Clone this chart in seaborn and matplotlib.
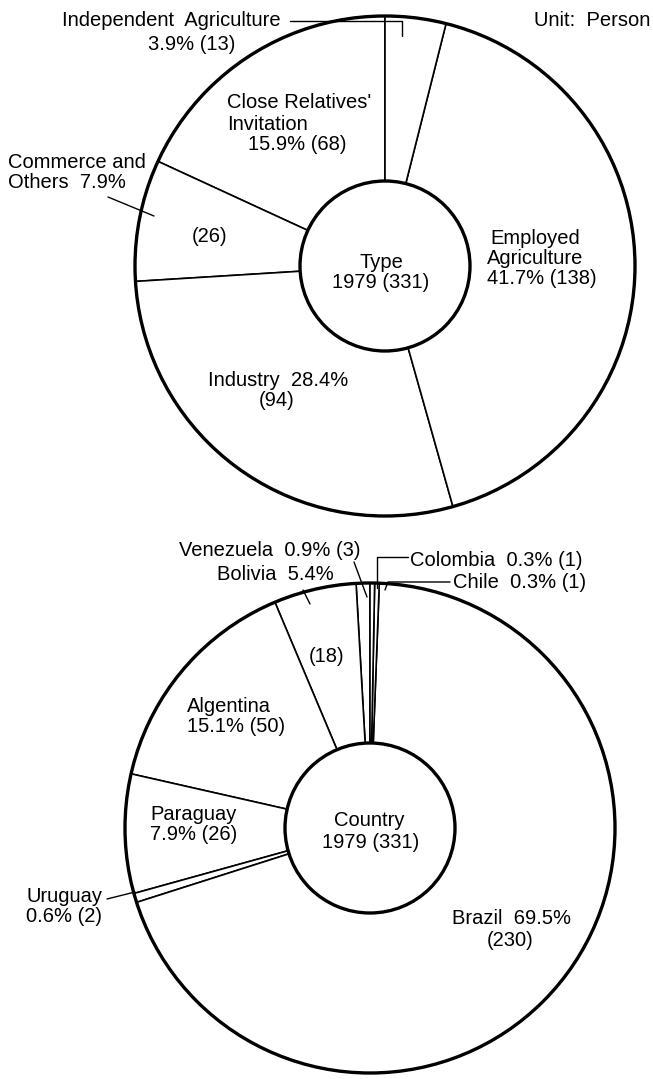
import matplotlib
matplotlib.use("Agg")
import matplotlib.pyplot as plt
from matplotlib.patches import Circle
import seaborn as sns

# DATA (wedge sizes as drawn, total 331 persons each)
type_names = ["Close Relatives' Invitation", "Commerce and Others", "Industry",
              "Employed Agriculture", "Independent Agriculture"]
type_counts = [60, 26, 94, 138, 13]

country_names = ["Venezuela", "Bolivia", "Algentina", "Paraguay", "Uruguay",
                 "Brazil", "Chile", "Colombia"]
country_counts = [3, 18, 50, 26, 2, 230, 1, 1]

# label texts as printed
type_labels = [
    ("Unit:  Person", 650, 20, "right"),
    ("Independent  Agriculture", 62, 21, "left"),
    ("3.9% (13)", 192, 45, "center"),
    ("Close Relatives'", 227, 103, "left"),
    ("Invitation", 227, 124, "left"),
    ("15.9% (68)", 297, 145, "center"),
    ("Commerce and", 8, 162, "left"),
    ("Others  7.9%", 8, 183, "left"),
    ("(26)", 210, 236, "center"),
    ("Type", 381, 262, "center"),
    ("1979 (331)", 381, 282, "center"),
    ("Employed", 490, 238, "left"),
    ("Agriculture", 487, 258, "left"),
    ("41.7% (138)", 487, 279, "left"),
    ("Industry  28.4%", 208, 381, "left"),
    ("(94)", 277, 400, "center"),
]
country_labels = [
    ("Venezuela  0.9% (3)", 179, 550, "left"),
    ("Bolivia  5.4%", 217, 574, "left"),
    ("Colombia  0.3% (1)", 410, 561, "left"),
    ("Chile  0.3% (1)", 453, 583, "left"),
    ("(18)", 327, 656, "center"),
    ("Algentina", 187, 706, "left"),
    ("15.1% (50)", 187, 726, "left"),
    ("Paraguay", 150, 814, "left"),
    ("7.9% (26)", 150, 835, "left"),
    ("Country", 369, 821, "center"),
    ("1979 (331)", 371, 842, "center"),
    ("Uruguay", 27, 897, "left"),
    ("0.6% (2)", 26, 917, "left"),
    ("Brazil  69.5%", 452, 919, "left"),
    ("(230)", 510, 940, "center"),
]

# leader lines (pixel coords, from top-left)
leaders = [
    [(290, 21), (402, 21), (402, 36)],
    [(108, 197), (154, 216)],
    [(354, 562), (367, 597)],
    [(303, 590), (310, 604)],
    [(408, 557), (377, 557), (377, 588)],
    [(450, 582), (388, 582), (385, 590)],
    [(107, 899), (135, 892)],
]

W, H = 653, 1079
FS = 14.5

sns.set_theme(style="white")
plt.rcParams["font.family"] = ["Liberation Sans", "DejaVu Sans"]

fig = plt.figure(figsize=(W / 100, H / 100), dpi=100)
ax = fig.add_axes([0, 0, 1, 1])


def donut(counts, cx, cy, r_out, r_in):
    ax.pie(counts, startangle=90, counterclock=True, center=(cx, H - cy),
           radius=r_out, colors=["white"] * len(counts),
           wedgeprops=dict(width=r_out - r_in, edgecolor="black", linewidth=1.2))
    for r in (r_out, r_in):
        ax.add_patch(Circle((cx, H - cy), r, fill=False, edgecolor="black",
                            linewidth=2.4, zorder=3))


donut(type_counts, 385, 266, 250, 85)
donut(country_counts, 370, 828, 245, 85)

for s, x, y, ha in type_labels + country_labels:
    ax.text(x, H - y, s, ha=ha, va="center", fontsize=FS, color="black")

for pts in leaders:
    ax.plot([p[0] for p in pts], [H - p[1] for p in pts], color="black", lw=1.0)

ax.set_xlim(0, W)
ax.set_ylim(0, H)
ax.set_aspect("equal")
ax.axis("off")
fig.savefig("out.png", dpi=100, facecolor="white")
